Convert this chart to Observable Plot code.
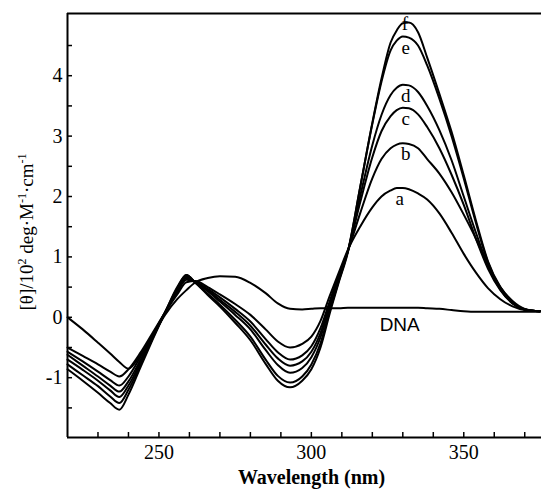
<!DOCTYPE html>
<html><head><meta charset="utf-8">
<script src="https://cdn.jsdelivr.net/npm/d3@7"></script>
<script src="https://cdn.jsdelivr.net/npm/@observablehq/plot@0.6"></script>
<style>body{margin:0;background:#fff;} svg{display:block}</style>
</head><body><div id="chart"></div>
<script>
// Wavelength grid (nm)
const wavelength = [220,225,230,234,237,240,244,248,252,256,259,262,266,270,275,280,285,289,293,297,300,303,306,309,312,316,320,323,326,328,330,332,335,338,342,346,350,354,358,362,366,370,375];
// CD values [θ]/10^2
const dna = [0,-0.2,-0.42,-0.6,-0.74,-0.85,-0.62,-0.3,0.04,0.3,0.45,0.58,0.65,0.68,0.67,0.57,0.4,0.23,0.14,0.13,0.14,0.15,0.15,0.15,0.16,0.16,0.16,0.16,0.16,0.16,0.16,0.16,0.16,0.15,0.14,0.12,0.1,0.09,0.09,0.09,0.09,0.09,0.09];
const a = [-0.5,-0.64,-0.78,-0.9,-0.98,-0.86,-0.58,-0.25,0.08,0.38,0.58,0.6,0.5,0.38,0.22,0.04,-0.2,-0.4,-0.5,-0.44,-0.32,-0.06,0.35,0.74,1.12,1.5,1.82,2.0,2.1,2.14,2.14,2.12,2.05,1.95,1.72,1.4,1.05,0.74,0.48,0.3,0.18,0.12,0.1];
const b = [-0.57,-0.73,-0.9,-1.04,-1.13,-0.98,-0.65,-0.28,0.08,0.42,0.62,0.59,0.47,0.33,0.14,-0.07,-0.36,-0.58,-0.7,-0.63,-0.48,-0.18,0.26,0.7,1.1,1.72,2.3,2.62,2.8,2.86,2.88,2.87,2.8,2.62,2.38,2.07,1.7,1.3,0.85,0.5,0.27,0.14,0.1];
const c = [-0.62,-0.8,-0.98,-1.13,-1.23,-1.06,-0.7,-0.3,0.08,0.44,0.65,0.58,0.45,0.29,0.09,-0.14,-0.45,-0.68,-0.8,-0.73,-0.57,-0.26,0.22,0.67,1.1,1.9,2.65,3.08,3.33,3.43,3.47,3.46,3.36,3.15,2.8,2.36,1.86,1.3,0.8,0.45,0.23,0.13,0.1];
const d = [-0.7,-0.87,-1.05,-1.21,-1.32,-1.13,-0.74,-0.32,0.08,0.46,0.67,0.58,0.43,0.26,0.04,-0.2,-0.54,-0.79,-0.92,-0.84,-0.66,-0.33,0.17,0.65,1.1,2.0,2.85,3.35,3.68,3.8,3.85,3.84,3.73,3.5,3.1,2.6,2.0,1.4,0.85,0.46,0.23,0.13,0.1];
const e = [-0.78,-0.96,-1.14,-1.31,-1.42,-1.2,-0.78,-0.34,0.08,0.48,0.7,0.57,0.39,0.21,-0.04,-0.32,-0.7,-0.97,-1.08,-0.98,-0.78,-0.43,0.1,0.6,1.1,2.15,3.2,3.9,4.42,4.58,4.65,4.63,4.5,4.17,3.62,3.0,2.3,1.56,0.9,0.48,0.24,0.13,0.1];
const f = [-0.86,-1.05,-1.25,-1.42,-1.53,-1.28,-0.82,-0.36,0.08,0.5,0.7,0.57,0.37,0.18,-0.09,-0.38,-0.77,-1.05,-1.16,-1.05,-0.86,-0.5,0.06,0.58,1.08,2.15,3.22,3.95,4.55,4.75,4.87,4.88,4.72,4.3,3.7,3.07,2.35,1.6,0.92,0.5,0.25,0.13,0.1];

const seriesNames = ["DNA","a","b","c","d","e","f"];
const seriesValues = [dna,a,b,c,d,e,f];
const xTickLabels = [250,300,350];
const xMinorTicks = [230,240,250,260,270,280,290,300,310,320,330,340,350,360,370];
const yTickLabels = [-1,0,1,2,3,4];
const yMinorTicks = [-1.5,-1,-0.5,0,0.5,1,1.5,2,2.5,3,3.5,4,4.5];
const xTitle = "Wavelength (nm)";

const serif = "'Liberation Serif','Times New Roman',serif";
const rows = seriesNames.flatMap((name, i) => wavelength.map((w, j) => ({series: name, wl: w, v: seriesValues[i][j]})));
const peaks = seriesNames.slice(1).map((name, i) => {
  const vals = seriesValues[i + 1];
  const k = d3.maxIndex(vals);
  return {label: name, wl: wavelength[k], v: vals[k]};
});
const dnaIdx = wavelength.indexOf(328);
const dnaLabel = [{label: "DNA", wl: wavelength[dnaIdx], v: dna[dnaIdx]}];

const xDomain = [220, 375.5], yDomain = [-1.99, 5.03];

const plot = Plot.plot({
  width: 541, height: 489,
  marginLeft: 67, marginRight: 0, marginTop: 13, marginBottom: 52,
  style: {fontFamily: serif, fontSize: "20px", background: "#fff", color: "#000"},
  x: {domain: xDomain},
  y: {domain: yDomain},
  marks: [
    Plot.lineY(rows, {x: "wl", y: "v", z: "series", curve: "monotone-x", stroke: "#000", strokeWidth: 2}),
    Plot.ruleX([xDomain[0]], {stroke: "#000", strokeWidth: 2}),
    Plot.ruleY([yDomain[0], yDomain[1]], {stroke: "#000", strokeWidth: 2}),
    Plot.axisX({ticks: xMinorTicks, tickSize: -5, fill: "none", label: null, strokeWidth: 1.5}),
    Plot.axisY({ticks: yMinorTicks, tickSize: -5, fill: "none", label: null, strokeWidth: 1.5}),
    Plot.axisX({ticks: xTickLabels, tickSize: 0, tickPadding: 7, label: null, tickFormat: v => String(v), fontFamily: serif, fontSize: 20, fontVariant: "normal"}),
    Plot.axisY({ticks: yTickLabels, tickSize: 0, tickPadding: 5, label: null, tickFormat: v => String(v), fontFamily: serif, fontSize: 20, fontVariant: "normal"}),
    Plot.text([xTitle], {frameAnchor: "bottom", lineAnchor: "middle", dx: 7, dy: 40, fontWeight: "bold", fontSize: 20, fontFamily: serif}),
    Plot.text(peaks.filter(p => p.label !== "f"), {x: "wl", y: "v", text: "label", dx: 3, dy: 11, fontSize: 19, fontFamily: serif}),
    Plot.text(peaks.filter(p => p.label === "f"), {x: "wl", y: "v", text: "label", dx: -4, dy: 1, fontSize: 19, fontFamily: serif}),
    Plot.text(dnaLabel, {x: "wl", y: "v", text: "label", dx: 3, dy: 17, fontSize: 19, fontFamily: "'Liberation Sans',Arial,sans-serif"})
  ]
});
document.getElementById("chart").appendChild(plot);

// y-axis title with superscripts
const svg = d3.select(plot);
const t = svg.append("text")
  .attr("transform", "translate(33,232) rotate(-90)")
  .attr("text-anchor", "middle")
  .attr("font-size", 19)
  .attr("font-family", serif)
  .attr("fill", "#000");
t.append("tspan").text("[θ]/10");
t.append("tspan").attr("baseline-shift", "super").attr("font-size", 12).text("2");
t.append("tspan").text(" deg·M");
t.append("tspan").attr("baseline-shift", "super").attr("font-size", 12).text("-1");
t.append("tspan").text("·cm");
t.append("tspan").attr("baseline-shift", "super").attr("font-size", 12).text("-1");
</script>
</body></html>
